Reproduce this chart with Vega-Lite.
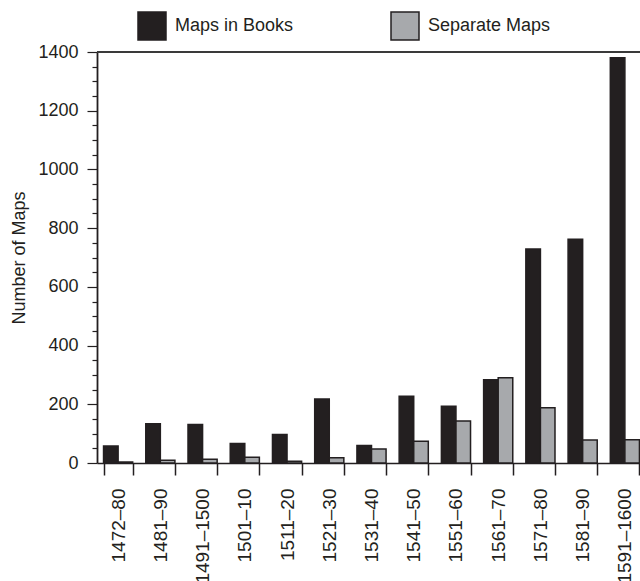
{
  "$schema": "https://vega.github.io/schema/vega-lite/v6.json",
  "width": 543,
  "height": 411,
  "autosize": {"type": "none"},
  "padding": {"left": 97, "top": 52, "right": 0, "bottom": 118},
  "background": "white",
  "config": {
    "view": {"stroke": null},
    "font": "Liberation Sans",
    "axis": {
      "labelFont": "Liberation Sans",
      "titleFont": "Liberation Sans",
      "labelColor": "#231f20",
      "titleColor": "#231f20",
      "domainColor": "#231f20",
      "tickColor": "#231f20",
      "grid": false
    },
    "legend": {"labelFont": "Liberation Sans", "labelColor": "#231f20"}
  },
  "data": {
    "values": [
      {"period": "1472–80", "type": "Maps in Books", "count": 58},
      {"period": "1472–80", "type": "Separate Maps", "count": 3},
      {"period": "1481–90", "type": "Maps in Books", "count": 134},
      {"period": "1481–90", "type": "Separate Maps", "count": 9},
      {"period": "1491–1500", "type": "Maps in Books", "count": 131},
      {"period": "1491–1500", "type": "Separate Maps", "count": 13},
      {"period": "1501–10", "type": "Maps in Books", "count": 66},
      {"period": "1501–10", "type": "Separate Maps", "count": 20},
      {"period": "1511–20", "type": "Maps in Books", "count": 97},
      {"period": "1511–20", "type": "Separate Maps", "count": 6},
      {"period": "1521–30", "type": "Maps in Books", "count": 218},
      {"period": "1521–30", "type": "Separate Maps", "count": 18},
      {"period": "1531–40", "type": "Maps in Books", "count": 60},
      {"period": "1531–40", "type": "Separate Maps", "count": 48},
      {"period": "1541–50", "type": "Maps in Books", "count": 227},
      {"period": "1541–50", "type": "Separate Maps", "count": 74},
      {"period": "1551–60", "type": "Maps in Books", "count": 193},
      {"period": "1551–60", "type": "Separate Maps", "count": 143},
      {"period": "1561–70", "type": "Maps in Books", "count": 284},
      {"period": "1561–70", "type": "Separate Maps", "count": 290},
      {"period": "1571–80", "type": "Maps in Books", "count": 729},
      {"period": "1571–80", "type": "Separate Maps", "count": 188},
      {"period": "1581–90", "type": "Maps in Books", "count": 762},
      {"period": "1581–90", "type": "Separate Maps", "count": 78},
      {"period": "1591–1600", "type": "Maps in Books", "count": 1380},
      {"period": "1591–1600", "type": "Separate Maps", "count": 79}
    ]
  },
  "layer": [
    {
      "mark": {"type": "bar", "stroke": "#231f20", "strokeWidth": 1.5},
      "encoding": {
        "x": {
          "field": "period",
          "type": "nominal",
          "sort": null,
          "scale": {"range": [0, 549], "paddingInner": 0.31, "paddingOuter": 0.155},
          "axis": {
            "title": null,
            "tickBand": "extent",
            "tickSize": 12,
            "tickWidth": 1.5,
            "domainWidth": 1.5,
            "labelAngle": 270,
            "labelAlign": "right",
            "labelBaseline": "middle",
            "labelPadding": 13,
            "labelFontSize": 19,
            "labelOverlap": false
          }
        },
        "xOffset": {"field": "type", "type": "nominal", "sort": null},
        "y": {
          "field": "count",
          "type": "quantitative",
          "scale": {"domain": [0, 1400], "nice": false},
          "axis": {
            "orient": "left",
            "values": [0, 200, 400, 600, 800, 1000, 1200, 1400],
            "format": "d",
            "tickSize": 10,
            "tickWidth": 1.2,
            "domainWidth": 1.8,
            "labelPadding": 9,
            "labelFontSize": 18,
            "title": "Number of Maps",
            "titleFontSize": 18,
            "titleFontWeight": "normal",
            "titlePadding": 9
          }
        },
        "color": {
          "field": "type",
          "type": "nominal",
          "sort": null,
          "scale": {"domain": ["Maps in Books", "Separate Maps"], "range": ["#231f20", "#a7a9ac"]},
          "legend": {
            "title": null,
            "orient": "none",
            "direction": "horizontal",
            "legendX": 40,
            "legendY": -41,
            "symbolType": "square",
            "symbolSize": 784,
            "symbolStrokeColor": "#231f20",
            "symbolStrokeWidth": 1.5,
            "labelFontSize": 18,
            "labelOffset": 8,
            "columnPadding": 94
          }
        }
      }
    },
    {
      "mark": {"type": "rule", "color": "#3a3a3a", "strokeWidth": 2},
      "encoding": {
        "y": {
          "datum": 1400,
          "type": "quantitative",
          "axis": {
            "orient": "left",
            "values": [50, 100, 150, 250, 300, 350, 450, 500, 550, 650, 700, 750, 850, 900, 950, 1050, 1100, 1150, 1250, 1300, 1350],
            "labels": false,
            "domain": false,
            "tickSize": 5,
            "tickWidth": 1.2,
            "title": null
          }
        }
      }
    }
  ],
  "resolve": {"axis": {"y": "independent"}}
}
